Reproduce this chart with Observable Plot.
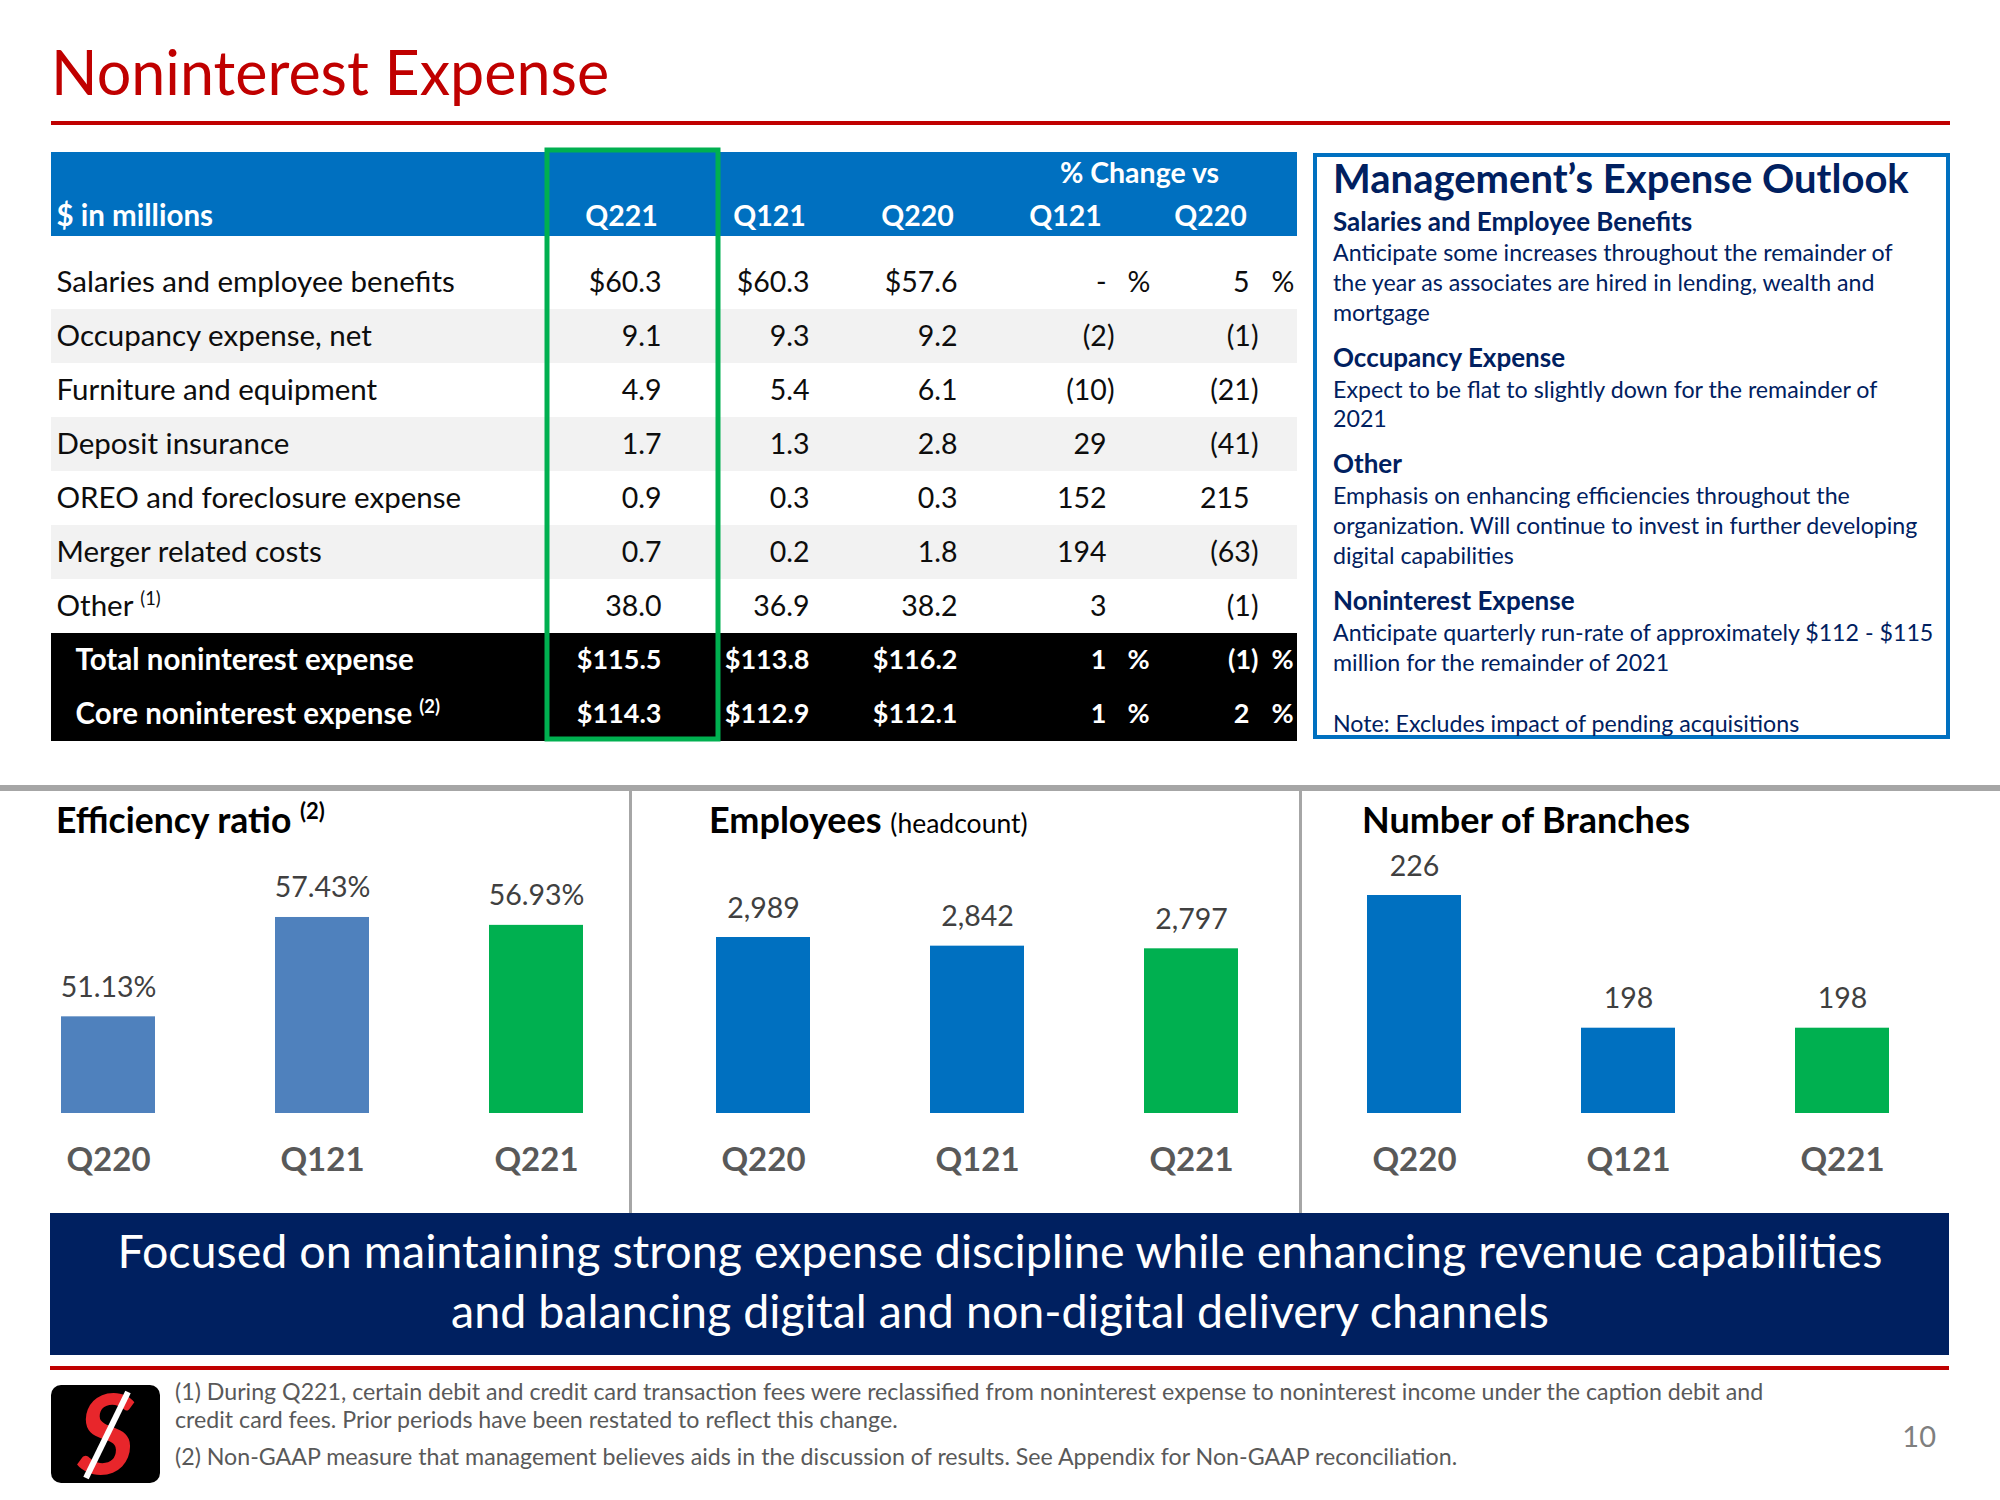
<!DOCTYPE html>
<html><head><meta charset="utf-8">
<script src="https://cdn.jsdelivr.net/npm/d3@7"></script>
<script src="https://cdn.jsdelivr.net/npm/@observablehq/plot@0.6"></script>
<style>
html,body{margin:0;padding:0;background:#fff;}
#page{position:relative;width:2000px;height:1500px;overflow:hidden;font-family:Lato,"Open Sans",sans-serif;background:#fff;}
</style></head><body><div id="page"></div>
<script>
// ---------------- DATA ----------------
const rowLabels = ["Salaries and employee benefits","Occupancy expense, net","Furniture and equipment","Deposit insurance","OREO and foreclosure expense","Merger related costs","Other (1)","Total noninterest expense","Core noninterest expense (2)"];
const colKeys = ["Q221","Q121","Q220","vsQ121","vsQ220"];
const colHeaders = ["Q221","Q121","Q220","Q121","Q220"];
const valQ221 = [60.3, 9.1, 4.9, 1.7, 0.9, 0.7, 38.0, 115.5, 114.3];
const valQ121 = [60.3, 9.3, 5.4, 1.3, 0.3, 0.2, 36.9, 113.8, 112.9];
const valQ220 = [57.6, 9.2, 6.1, 2.8, 0.3, 1.8, 38.2, 116.2, 112.1];
const pctVsQ121 = [0, -2, -10, 29, 152, 194, 3, 1, 1];
const pctVsQ220 = [5, -1, -21, -41, 215, -63, -1, -1, 2];
const dollarRows = [0, 7, 8];
const totalRows = [7, 8];
const shadedRows = [1, 3, 5];

const quarters = ["Q220","Q121","Q221"];
const efficiencyRatio = [51.13, 57.43, 56.93];
const employees = [2989, 2842, 2797];
const branches = [226, 198, 198];

// ---------------- STATIC LAYOUT ----------------
const NAVY = "#002060", BLUE = "#0070C0", RED = "#C00000", GREEN = "#00B050";
const page = d3.select("#page");
const svg = page.append("svg").attr("width",2000).attr("height",1500)
  .style("position","absolute").style("left","0px").style("top","0px");
function T(x,y,str,o={}) {
  return svg.append("text").attr("x",x).attr("y",y)
    .attr("font-family","Lato").attr("font-size",o.size||24)
    .attr("font-weight",o.weight||"normal").attr("fill",o.fill||"#000")
    .attr("text-anchor",o.anchor||"start").text(str);
}
function R(x,y,w,h,fill){ return svg.append("rect").attr("x",x).attr("y",y).attr("width",w).attr("height",h).attr("fill",fill); }

T(51,95,"Noninterest Expense",{size:61,fill:RED});
R(51,121,1899,4,RED);
R(51,152,1246,84,BLUE);

// outlook box
svg.append("rect").attr("x",1315).attr("y",155).attr("width",633).attr("height",582)
  .attr("fill","none").attr("stroke",BLUE).attr("stroke-width",4);
const outlook = [
 ["Management’s Expense Outlook",193,40,"bold"],
 ["Salaries and Employee Benefits",231,26,"bold"],
 ["Anticipate some increases throughout the remainder of",261,23.2,"normal"],
 ["the year as associates are hired in lending, wealth and",291,23.2,"normal"],
 ["mortgage",321,23.2,"normal"],
 ["Occupancy Expense",367,26,"bold"],
 ["Expect to be flat to slightly down for the remainder of",398,23.2,"normal"],
 ["2021",427,23.2,"normal"],
 ["Other",473,26,"bold"],
 ["Emphasis on enhancing efficiencies throughout the",504,23.2,"normal"],
 ["organization. Will continue to invest in further developing",534,23.2,"normal"],
 ["digital capabilities",564,23.2,"normal"],
 ["Noninterest Expense",610,26,"bold"],
 ["Anticipate quarterly run-rate of approximately $112 - $115",641,23.2,"normal"],
 ["million for the remainder of 2021",671,23.2,"normal"],
 ["Note: Excludes impact of pending acquisitions",732,23.2,"normal"]
];
outlook.forEach(([t,y,s,w]) => T(1333,y,t,{size:s,weight:w,fill:NAVY}));

// separators
R(0,785,2000,6,"#A6A6A6");
R(629,788,3,425,"#A6A6A6");
R(1299,788,3,425,"#A6A6A6");

// panel titles
{
  const t = T(56,833,"Efficiency ratio ",{size:35.5,weight:"bold",fill:"#000"});
  t.append("tspan").attr("font-size",22).attr("dy",-14).text("(2)");
  const e = T(709,833,"Employees ",{size:36,weight:"bold",fill:"#000"});
  e.append("tspan").attr("font-size",26.5).attr("font-weight","normal").text("(headcount)");
  T(1362,833,"Number of Branches",{size:36,weight:"bold",fill:"#000"});
}

// banner
R(50,1213,1899,142,NAVY);
T(1000,1268,"Focused on maintaining strong expense discipline while enhancing revenue capabilities",{size:46.6,fill:"#fff",anchor:"middle"});
T(1000,1328,"and balancing digital and non-digital delivery channels",{size:46.6,fill:"#fff",anchor:"middle"});
R(50,1366,1899,4,RED);

// logo
svg.append("rect").attr("x",51).attr("y",1385).attr("width",109).attr("height",98).attr("rx",10).attr("fill","#000");
T(106,1474,"S",{size:112,weight:"bold",fill:"#E8262B",anchor:"middle"}).attr("font-style","italic");
svg.append("line").attr("x1",128).attr("y1",1392).attr("x2",86).attr("y2",1478).attr("stroke","#fff").attr("stroke-width",6);

// footnotes
const FG = "#595959";
T(175,1400,"(1)  During Q221, certain debit and credit card transaction fees were reclassified from noninterest expense to noninterest income under the caption debit and",{size:23.2,fill:FG});
T(175,1428,"credit card fees. Prior periods have been restated to reflect this change.",{size:23.2,fill:FG});
T(175,1465,"(2)  Non-GAAP measure that management believes aids in the discussion of results. See Appendix for Non-GAAP reconciliation.",{size:23.2,fill:FG});
T(1936,1447,"10",{size:29,fill:"#7F7F7F",anchor:"end"});

// ---------------- TABLE (Plot) ----------------
const fmtMoney = (v,i) => (dollarRows.includes(i) ? "$" : "") + v.toFixed(1);
const fmtPct = v => v === 0 ? "-" : v < 0 ? `(${-v})` : `${v}`;
const rows = rowLabels.map((label,i) => ({key: label, label, i, total: totalRows.includes(i)}));
const cells = [];
rowLabels.forEach((label,i) => {
  const total = totalRows.includes(i);
  [[valQ221,"Q221"],[valQ121,"Q121"],[valQ220,"Q220"]].forEach(([arr,col]) =>
    cells.push({key: label, col, text: fmtMoney(arr[i],i), total, kind: "money"}));
  [[pctVsQ121,"vsQ121"],[pctVsQ220,"vsQ220"]].forEach(([arr,col]) => {
    const t = fmtPct(arr[i]);
    cells.push({key: label, col, text: t, total, kind: t.endsWith(")") ? "paren" : "plain"});
    if (dollarRows.includes(i)) cells.push({key: label, col, text: "%", total, kind: "sign"});
  });
});
const dxMap = {
  money: {Q221:40, Q121:40, Q220:40},
  paren: {vsQ121:49, vsQ220:45},
  plain: {vsQ121:41, vsQ220:36},
  sign:  {vsQ121:62, vsQ220:58}
};
const FS = 28.5, FL = 29.5;
const tMarks = [];
for (const kind of Object.keys(dxMap)) {
  for (const col of Object.keys(dxMap[kind])) {
    for (const total of [false,true]) {
      const d = cells.filter(c => c.kind===kind && c.col===col && c.total===total);
      if (!d.length) continue;
      tMarks.push(Plot.text(d, {x:"col", y:"key", text:"text", dx: dxMap[kind][col],
        textAnchor: kind==="sign" ? "start" : "end", fontSize: total ? 27 : FS,
        fontWeight: total ? "bold" : "normal", fill: total ? "#fff" : "#0d0d0d"}));
    }
  }
}
const headerData = colKeys.map((k,i) => ({col:k, label: colHeaders[i]}));
const table = Plot.plot({
  width: 1300, height: 760, marginTop: 152, marginBottom: 19, marginLeft: 51, marginRight: 3,
  style: {background: "transparent", fontFamily: "Lato", overflow: "visible"},
  x: {type: "band", domain: colKeys, range: [547, 1287], padding: 0, axis: null},
  y: {type: "band", domain: rowLabels, range: [255, 741], padding: 0, axis: null},
  marks: [
    Plot.cell(rows.filter(r => shadedRows.includes(r.i)), {y: "key", fill: "#F2F2F2"}),
    Plot.cell(rows.filter(r => r.total), {y: "key", fill: "#000"}),
    Plot.text(rows.filter(r => !r.total), {y: "key", text: "label", frameAnchor: "left", textAnchor: "start", dx: 5, fontSize: FL, fill: "#0d0d0d"}),
    Plot.text(rows.filter(r => r.total), {y: "key", text: "label", frameAnchor: "left", textAnchor: "start", dx: 24, fontSize: FL, fontWeight: "bold", fill: "#fff"}),
    ...tMarks,
    Plot.text(headerData.slice(0,4), {x: "col", text: "label", frameAnchor: "top", lineAnchor: "bottom", dy: 73, fontSize: FS, fontWeight: "bold", fill: "#fff"}),
    Plot.text(headerData.slice(4), {x: "col", text: "label", frameAnchor: "top", lineAnchor: "bottom", dy: 73, dx: -3, fontSize: FS, fontWeight: "bold", fill: "#fff"}),
    Plot.text(["$ in millions"], {frameAnchor: "top-left", text: d => d, lineAnchor: "bottom", textAnchor: "start", dx: 5, dy: 73, fontSize: FL, fontWeight: "bold", fill: "#fff"}),
    Plot.text(["% Change vs"], {x: () => "vsQ121", text: d => d, frameAnchor: "top", lineAnchor: "bottom", dx: 74, dy: 30, fontSize: FS, fontWeight: "bold", fill: "#fff"}),
    Plot.cell(["Q221"], {x: d => d, fill: "none", stroke: GREEN, strokeWidth: 5, insetTop: -2, insetBottom: 2, insetRight: -23})
  ]
});
d3.select(table).selectAll("text").each(function() {
  const m = this.textContent.match(/^(.+?) (\(\d\))$/);
  if (m) {
    const s = d3.select(this); s.text("");
    s.append("tspan").text(m[1] + " ");
    s.append("tspan").attr("font-size", "0.62em").attr("dy", -11).text(m[2]);
  }
});
page.append(() => table).style("position","absolute").style("left","0px").style("top","0px");

// ---------------- BAR PANELS (Plot) ----------------
function panel({left, values, colors, domain, ppu, xRange, fmt, width}) {
  const base = 323;
  const data = quarters.map((q,i) => ({q, v: values[i], c: colors[i]}));
  const chart = Plot.plot({
    width, height: 423, marginTop: 0, marginBottom: 100, marginLeft: 0, marginRight: 0,
    style: {background: "transparent", fontFamily: "Lato", overflow: "visible"},
    x: {type: "band", domain: quarters, range: xRange, paddingInner: 0.561, paddingOuter: 0.2805, axis: null},
    y: {domain, range: [base, base - (domain[1]-domain[0])*ppu], clamp: true, axis: null},
    color: {type: "identity"},
    marks: [
      Plot.barY(data, {x: "q", y: "v", fill: "c"}),
      Plot.text(data, {x: "q", y: "v", text: d => fmt(d.v), lineAnchor: "bottom", dy: -20, fontSize: 28.5, fill: "#404040"}),
      Plot.text(data, {x: "q", text: "q", frameAnchor: "bottom", lineAnchor: "bottom", dy: 57, fontSize: 33, fontWeight: "bold", fill: "#595959"})
    ]
  });
  page.append(() => chart).style("position","absolute").style("left", left+"px").style("top","790px");
}
panel({left: 0, width: 630, values: efficiencyRatio, colors: ["#4F81BD","#4F81BD",GREEN], domain: [45, 65], ppu: 15.77, xRange: [1, 643], fmt: v => v.toFixed(2) + "%"});
panel({left: 630, width: 670, values: employees, colors: [BLUE,BLUE,GREEN], domain: [0, 3000], ppu: 0.05888, xRange: [25, 668], fmt: d3.format(",")});
panel({left: 1300, width: 700, values: branches, colors: [BLUE,BLUE,GREEN], domain: [180, 230], ppu: 4.739, xRange: [7, 649], fmt: v => String(v)});
</script>
</body></html>
